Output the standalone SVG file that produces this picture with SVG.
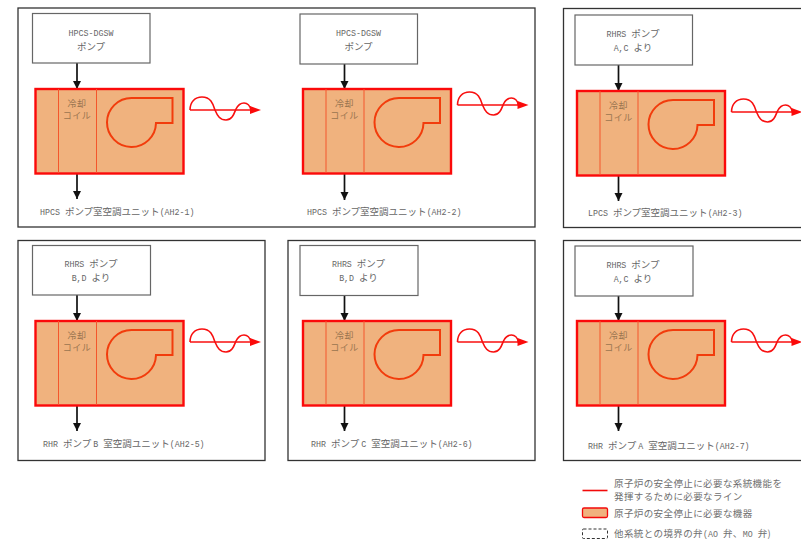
<svg xmlns="http://www.w3.org/2000/svg" width="801" height="544" viewBox="0 0 801 544">
<style>
text{font-family:"Noto Sans CJK JP","Liberation Mono",monospace;font-size:9.5px;fill:#666}
tspan.l{font-family:"Liberation Mono",monospace;font-size:8.300px}
.m{text-anchor:middle}
text.c{fill:#9a7550;font-size:9px;letter-spacing:.5px}
.frame{fill:#fff;stroke:#333;stroke-width:1.3}
.pump{fill:#fff;stroke:#666;stroke-width:1.2}
.body{fill:#f0b27e;stroke:#fb0a0a;stroke-width:2.4}
.div{fill:none;stroke:#f4562c;stroke-width:1}
.fan{fill:none;stroke:#f23c0c;stroke-width:2}
.pipe{fill:none;stroke:#111;stroke-width:1.700;marker-end:url(#bk)}
.wave{fill:none;stroke:#f80f0f;stroke-width:1.600}
.leg{stroke:#f20a0a;stroke-width:1.6}
.lt{letter-spacing:.4px;fill:#6e6e6e}
</style>
<defs>
<marker id="bk" markerUnits="userSpaceOnUse" markerWidth="9" markerHeight="10" refX="8" refY="4" orient="auto"><path d="M0 0L8 4L0 8Z" fill="#111"/></marker>
<g id="ahu">
<rect class="body" x="35.500" y="89" width="148" height="84.500"/>
<path class="div" d="M58.500 89V173M96.500 89V173"/>
<path class="fan" d="M131.500 98H172.500V123H156A24.500 24.500 0 1 1 131.500 98Z"/>
</g>
<g id="wav">
<path class="wave" d="M190 110C190 102 195 97 202 97C211 97 213 104 215 110C217.500 116 220 120 226 120C232 120 234 114 236 109C238 105 240 103 244 103C248 103 250 106 251 110"/>
<path class="wave" d="M190 110H254"/>
<path d="M250 106L261 110L250 114Z" fill="#fb0a0a"/>
</g>
</defs>
<g id="frames">
<rect class="frame" x="18" y="8" width="517" height="219"/>
<rect class="frame" x="563.500" y="8.500" width="260" height="219"/>
<rect class="frame" x="18" y="240.500" width="247" height="220"/>
<rect class="frame" x="288" y="240.500" width="247" height="220"/>
<rect class="frame" x="563.500" y="240.500" width="260" height="220"/>
</g>
<g id="connectors">
<path class="pipe" d="M77 63V89"/><path class="pipe" d="M77 173V199"/>
<path class="pipe" d="M344.500 64V89"/><path class="pipe" d="M344.500 173V200"/>
<path class="pipe" d="M618.500 65V91"/><path class="pipe" d="M618.500 175V201"/>
<path class="pipe" d="M77 295V321"/><path class="pipe" d="M77 405V431"/>
<path class="pipe" d="M344.500 295V321"/><path class="pipe" d="M344.500 406V431"/>
<path class="pipe" d="M618.500 296V321"/><path class="pipe" d="M618.500 405V431"/>
</g>
<g id="unit-ah2-1">
<rect class="pump" x="32.500" y="13.500" width="117.500" height="49.500"/>
<text class="m" x="91" y="36"><tspan class="l">HPCS-DGSW</tspan></text>
<text class="m" x="91" y="50">ポンプ</text>
<use href="#ahu"/><use href="#wav"/>
<text class="m c" x="77" y="107">冷却</text><text class="m c" x="77" y="119">コイル</text>
<text x="40" y="215"><tspan class="l">HPCS </tspan>ポンプ室空調ユニット<tspan class="l">(AH2-1)</tspan></text>
</g>
<g id="unit-ah2-2">
<rect class="pump" x="300" y="14" width="117.500" height="50"/>
<text class="m" x="358.500" y="36"><tspan class="l">HPCS-DGSW</tspan></text>
<text class="m" x="358.500" y="50">ポンプ</text>
<use href="#ahu" x="267.500"/><use href="#wav" x="267.500" y="-5"/>
<text class="m c" x="344.500" y="107">冷却</text><text class="m c" x="344.500" y="119">コイル</text>
<text x="307" y="215"><tspan class="l">HPCS </tspan>ポンプ室空調ユニット<tspan class="l">(AH2-2)</tspan></text>
</g>
<g id="unit-ah2-3">
<rect class="pump" x="575" y="15" width="117.500" height="50"/>
<text class="m" x="633" y="37"><tspan class="l">RHRS </tspan>ポンプ</text>
<text class="m" x="633" y="51"><tspan class="l">A,C </tspan>より</text>
<use href="#ahu" x="541.500" y="2"/><use href="#wav" x="541.500" y="2"/>
<text class="m c" x="618.500" y="109">冷却</text><text class="m c" x="618.500" y="121">コイル</text>
<text x="588" y="216"><tspan class="l">LPCS </tspan>ポンプ室空調ユニット<tspan class="l">(AH2-3)</tspan></text>
</g>
<g id="unit-ah2-5">
<rect class="pump" x="32.500" y="245.500" width="118" height="49.500"/>
<text class="m" x="91" y="267"><tspan class="l">RHRS </tspan>ポンプ</text>
<text class="m" x="91" y="281"><tspan class="l">B,D </tspan>より</text>
<use href="#ahu" y="232"/><use href="#wav" y="232"/>
<text class="m c" x="77" y="339">冷却</text><text class="m c" x="77" y="351">コイル</text>
<text x="43" y="447"><tspan class="l">RHR </tspan>ポンプ <tspan class="l">B </tspan>室空調ユニット<tspan class="l">(AH2-5)</tspan></text>
</g>
<g id="unit-ah2-6">
<rect class="pump" x="300" y="245.500" width="118" height="50"/>
<text class="m" x="358.500" y="267"><tspan class="l">RHRS </tspan>ポンプ</text>
<text class="m" x="358.500" y="281"><tspan class="l">B,D </tspan>より</text>
<use href="#ahu" x="267.500" y="232"/><use href="#wav" x="267.500" y="232"/>
<text class="m c" x="344.500" y="339">冷却</text><text class="m c" x="344.500" y="351">コイル</text>
<text x="311" y="447"><tspan class="l">RHR </tspan>ポンプ <tspan class="l">C </tspan>室空調ユニット<tspan class="l">(AH2-6)</tspan></text>
</g>
<g id="unit-ah2-7">
<rect class="pump" x="575" y="246" width="118" height="50"/>
<text class="m" x="633" y="268"><tspan class="l">RHRS </tspan>ポンプ</text>
<text class="m" x="633" y="282"><tspan class="l">A,C </tspan>より</text>
<use href="#ahu" x="541.500" y="232"/><use href="#wav" x="541.500" y="232"/>
<text class="m c" x="618.500" y="339">冷却</text><text class="m c" x="618.500" y="351">コイル</text>
<text x="588" y="449"><tspan class="l">RHR </tspan>ポンプ <tspan class="l">A </tspan>室空調ユニット<tspan class="l">(AH2-7)</tspan></text>
</g>
<g id="legend">
<line class="leg" x1="582.500" y1="490.500" x2="607.500" y2="490.500"/>
<text class="lt" x="614" y="487">原子炉の安全停止に必要な系統機能を</text>
<text class="lt" x="614" y="500">発揮するために必要なライン</text>
<rect x="582.500" y="508" width="25" height="9.500" rx="1.500" fill="#f0b27e" stroke="#f20a0a" stroke-width="1.300"/>
<text class="lt" x="614" y="516.500">原子炉の安全停止に必要な機器</text>
<rect x="582.500" y="529" width="25" height="9.500" rx="1" fill="#fff" stroke="#333" stroke-width="1" stroke-dasharray="3 2"/>
<text class="lt" x="614" y="537">他系統との境界の弁<tspan class="l" letter-spacing="0">(AO </tspan>弁、<tspan class="l" letter-spacing="0">MO </tspan>弁)</text>
</g>
</svg>
